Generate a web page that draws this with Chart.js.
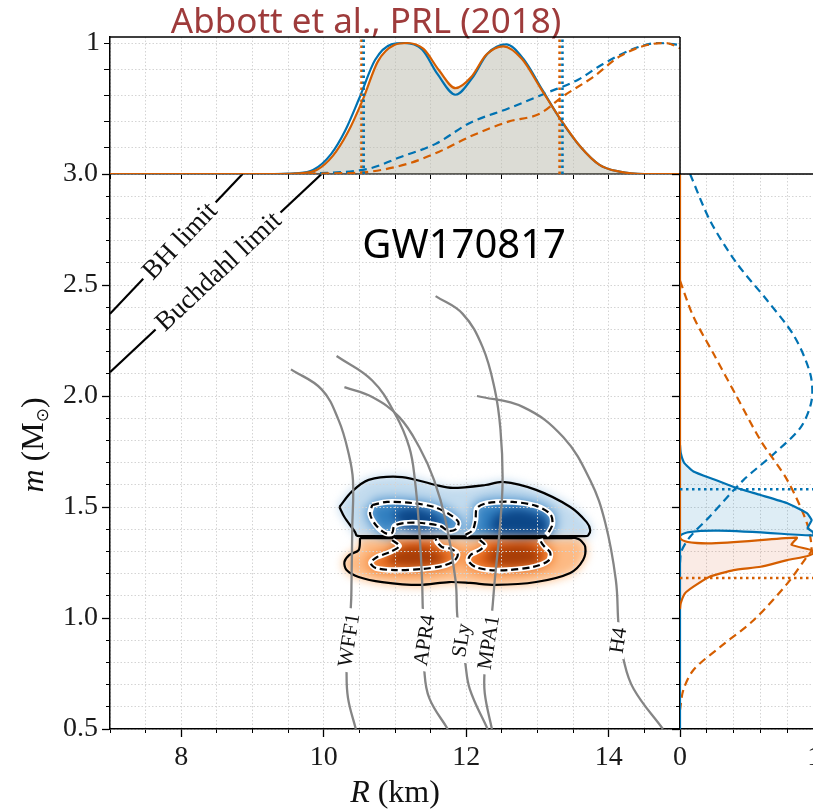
<!DOCTYPE html>
<html>
<head>
<meta charset="utf-8">
<title>GW170817 mass-radius</title>
<script src="https://cdn.jsdelivr.net/npm/chart.js@4.4.1/dist/chart.umd.min.js"></script>
<style>
html, body { margin: 0; padding: 0; background: #fff; overflow: hidden; }
#stage { position: relative; width: 813px; height: 812px; overflow: hidden; }
#stage canvas { position: absolute; left: 0; top: 0; }
#density { filter: blur(4px); }
</style>
</head>
<body>
<div id="stage">
  <canvas id="density" width="813" height="812"></canvas>
  <canvas id="main" width="813" height="812"></canvas>
  <canvas id="top" width="813" height="812"></canvas>
  <canvas id="side" width="840" height="812"></canvas>
</div>
<script>
// tick values
const rTicks = [8, 10, 12, 14];
const mTicks = [0.5, 1.0, 1.5, 2.0, 2.5, 3.0];
const pdfTicks = [0, 1];
const topMax = 1.046;

// EOS mass-radius curves (R in km, m in solar masses)
const eosNames = ['WFF1', 'APR4', 'SLy', 'MPA1', 'H4'];
const wff1R = [9.54, 9.97, 10.21, 10.35, 10.41, 10.40, 10.39, 10.38, 10.33, 10.32, 10.34, 10.45];
const wff1M = [2.12, 2.03, 1.89, 1.74, 1.62, 1.40, 1.17, 1.05, 0.90, 0.77, 0.64, 0.50];
const apr4R = [10.18, 10.68, 11.00, 11.20, 11.28, 11.34, 11.38, 11.39, 11.41, 11.41, 11.48, 11.74];
const apr4M = [2.18, 2.07, 1.92, 1.77, 1.62, 1.40, 1.17, 1.04, 0.90, 0.77, 0.64, 0.50];
const slyR = [10.29, 10.68, 11.06, 11.34, 11.55, 11.71, 11.85, 11.88, 11.98, 12.05, 12.30];
const slyM = [2.04, 1.995, 1.905, 1.77, 1.62, 1.44, 1.17, 0.99, 0.81, 0.68, 0.50];
const mpa1R = [11.57, 11.95, 12.23, 12.40, 12.48, 12.51, 12.47, 12.40, 12.36, 12.31, 12.26, 12.26, 12.36];
const mpa1M = [2.45, 2.37, 2.22, 2.03, 1.85, 1.62, 1.40, 1.17, 1.02, 0.89, 0.77, 0.66, 0.50];
const h4R = [12.15, 12.80, 13.36, 13.74, 13.95, 14.10, 14.14, 14.21, 14.35, 14.76];
const h4M = [2.00, 1.95, 1.815, 1.62, 1.43, 1.17, 0.96, 0.81, 0.68, 0.50];
const eosLabelR = [10.35, 11.41, 11.93, 12.31, 14.13];
const eosLabelM = [0.90, 0.90, 0.90, 0.89, 0.90];

// compactness limits
const bhR = [7.0, 8.86];
const bhM = [2.37, 3.0];
const buchR = [7.0, 9.97];
const buchM = [2.107, 3.0];
const limitNames = ['BH limit', 'Buchdahl limit'];
const limitLabelM = [2.70, 2.563];

// 90% (solid) and 50% (dashed) credible contours, heavier star m1 and lighter m2
const blueOutR = [10.22, 10.39, 10.63, 11.10, 11.57, 11.81, 12.27, 12.51, 12.98, 13.46, 13.69, 13.74, 13.71, 13.66, 10.50, 10.46, 10.44, 10.29, 10.22];
const blueOutM = [1.500, 1.568, 1.622, 1.635, 1.599, 1.586, 1.599, 1.613, 1.577, 1.500, 1.432, 1.396, 1.372, 1.369, 1.369, 1.372, 1.387, 1.455, 1.500];
const orOutR = [10.51, 10.49, 10.36, 10.29, 10.32, 10.49, 10.82, 11.34, 11.76, 12.05, 12.41, 12.98, 13.46, 13.64, 13.67, 13.60, 13.54, 13.48, 10.56, 10.51];
const orOutM = [1.360, 1.306, 1.284, 1.252, 1.216, 1.185, 1.162, 1.149, 1.162, 1.158, 1.149, 1.162, 1.203, 1.261, 1.320, 1.351, 1.360, 1.360, 1.360, 1.360];
const blueInLR = [10.68, 10.89, 11.24, 11.55, 11.76, 11.89, 11.86, 11.75, 11.64, 11.38, 11.13, 10.99, 10.96, 10.86, 10.73, 10.65, 10.68];
const blueInLM = [1.509, 1.523, 1.518, 1.500, 1.468, 1.432, 1.401, 1.392, 1.414, 1.428, 1.428, 1.414, 1.383, 1.383, 1.419, 1.468, 1.509];
const blueInRR = [11.99, 12.09, 12.13, 12.15, 12.30, 12.65, 12.98, 13.18, 13.21, 13.15, 13.12];
const blueInRM = [1.374, 1.396, 1.441, 1.495, 1.518, 1.523, 1.505, 1.468, 1.423, 1.383, 1.374];
const orInLR = [10.96, 11.06, 10.93, 10.75, 10.66, 10.73, 11.00, 11.38, 11.66, 11.83, 11.88, 11.79, 11.66, 11.59, 11.57];
const orInLM = [1.351, 1.324, 1.297, 1.275, 1.248, 1.225, 1.216, 1.221, 1.234, 1.257, 1.288, 1.311, 1.320, 1.342, 1.356];
const orInRR = [12.19, 12.26, 12.19, 12.06, 12.03, 12.13, 12.33, 12.58, 12.94, 13.15, 13.18, 13.09, 13.05, 13.04];
const orInRM = [1.351, 1.329, 1.306, 1.284, 1.257, 1.230, 1.216, 1.216, 1.230, 1.257, 1.293, 1.324, 1.342, 1.356];
// density maxima
const blueCoreLR = [10.99, 11.23, 11.51, 11.66, 11.38, 11.10, 10.99];
const blueCoreLM = [1.473, 1.495, 1.468, 1.423, 1.396, 1.414, 1.473];
const blueCoreRR = [12.40, 12.72, 13.08, 13.13, 12.65, 12.37, 12.40];
const blueCoreRM = [1.459, 1.486, 1.450, 1.387, 1.378, 1.396, 1.459];
const orCoreLR = [10.96, 11.24, 11.59, 11.66, 11.24, 10.93, 10.96];
const orCoreLM = [1.297, 1.315, 1.297, 1.252, 1.234, 1.252, 1.297];
const orCoreRR = [12.37, 12.72, 13.01, 13.01, 12.58, 12.30, 12.37];
const orCoreRM = [1.306, 1.324, 1.297, 1.252, 1.234, 1.261, 1.306];

// radius posteriors (solid) and priors (dashed), peak-normalised
const topBlueR = [7.0, 9.3, 9.6, 9.85, 10.1, 10.3, 10.5, 10.72, 10.95, 11.13, 11.38, 11.6, 11.85, 12.08, 12.3, 12.56, 12.8, 13.07, 13.33, 13.6, 13.87, 14.15, 14.5, 15.0];
const topBlueV = [0, 0, 0.005, 0.03, 0.15, 0.33, 0.58, 0.87, 0.99, 1.0, 0.95, 0.76, 0.605, 0.73, 0.92, 0.99, 0.88, 0.64, 0.41, 0.21, 0.07, 0.018, 0, 0];
const topOrR = [7.0, 9.35, 9.65, 9.9, 10.13, 10.34, 10.55, 10.76, 10.99, 11.17, 11.4, 11.62, 11.85, 12.07, 12.28, 12.52, 12.78, 13.05, 13.32, 13.6, 13.87, 14.15, 14.5, 15.0];
const topOrV = [0, 0, 0.005, 0.03, 0.14, 0.32, 0.57, 0.86, 0.985, 1.0, 0.955, 0.79, 0.655, 0.74, 0.91, 0.975, 0.88, 0.65, 0.42, 0.21, 0.07, 0.018, 0, 0];
const topBlueDashR = [9.4, 9.88, 10.65, 11.08, 11.57, 12.05, 12.59, 13.13, 13.57, 13.89, 14.32, 14.70, 15.0];
const topBlueDashV = [0, 0.005, 0.043, 0.13, 0.23, 0.39, 0.50, 0.62, 0.72, 0.83, 0.95, 1.0, 0.985];
const topOrDashR = [9.6, 10.10, 10.65, 11.19, 11.62, 12.05, 12.59, 13.03, 13.35, 13.78, 14.16, 14.54, 14.81, 15.0];
const topOrDashV = [0, 0.005, 0.018, 0.08, 0.17, 0.285, 0.40, 0.46, 0.59, 0.74, 0.90, 0.985, 1.0, 0.96];
const blueRInterval = [10.56, 13.35];
const orRInterval = [10.53, 13.31];

// mass posteriors (solid) and priors (dashed)
const sideBlueV = [0, 0.005, 0.03, 0.10, 0.25, 0.40, 0.60, 0.80, 0.945, 0.98, 0.95, 0.985, 1.0, 0, 0];
const sideBlueM = [1.78, 1.745, 1.70, 1.66, 1.625, 1.59, 1.554, 1.517, 1.472, 1.441, 1.405, 1.39, 1.372, 1.370, 0.5];
const sideOrV = [0, 0, 0.87, 0.83, 0.98, 0.99, 0.945, 0.80, 0.60, 0.40, 0.22, 0.10, 0.037, 0.005, 0];
const sideOrM = [3.0, 1.362, 1.362, 1.33, 1.306, 1.29, 1.278, 1.261, 1.231, 1.216, 1.186, 1.141, 1.111, 1.066, 1.04];
const sideBlueDashV = [0.075, 0.224, 0.42, 0.65, 0.85, 0.97, 0.98, 0.90, 0.70, 0.47, 0.22, 0.075, 0.01, 0];
const sideBlueDashM = [3.0, 2.79, 2.60, 2.43, 2.27, 2.10, 1.98, 1.86, 1.74, 1.62, 1.456, 1.366, 1.30, 1.25];
const sideOrDashV = [0, 0.10, 0.25, 0.42, 0.60, 0.80, 0.945, 0.98, 0.945, 0.80, 0.55, 0.30, 0.10, 0.025, 0];
const sideOrDashM = [2.52, 2.357, 2.19, 2.0, 1.80, 1.62, 1.427, 1.306, 1.276, 1.156, 0.991, 0.87, 0.766, 0.676, 0.586];
const m1Upper = 1.58;
const m2Lower = 1.18;

const SERIF = '"Liberation Serif", "DejaVu Serif", serif';
const SANS = '"Noto Sans", "Open Sans", sans-serif';
const BLUE = '#0072b2', ORANGE = '#d55e00', GREY = '#858585', GRID = '#d4d4d4';
Chart.defaults.font.family = SERIF;

const pts = (xs, ys) => xs.map((v, i) => ({ x: v, y: ys[i] }));
function ds(xs, ys, opts) {
  return Object.assign({
    data: pts(xs, ys), xAxisID: 'x', yAxisID: 'y',
    borderColor: '#000', borderWidth: 2.2, pointRadius: 0, fill: false, tension: 0
  }, opts);
}

function majorAxis(pos, min, max, ticks, size, fmt, len) {
  return {
    type: 'linear', position: pos, weight: 1, min, max,
    afterBuildTicks: s => { s.ticks = ticks.map(v => ({ value: v })); },
    afterFit: s => { if (pos === 'left') s.width = size; else s.height = size; },
    grid: { drawOnChartArea: false, tickLength: len || 8, tickColor: '#000', tickWidth: 1.3 },
    border: { color: '#000', width: 1.5 },
    ticks: { display: !!fmt, font: { family: SERIF, size: 28 }, color: '#1a1a1a', padding: 4,
             autoSkip: false, maxRotation: 0, callback: fmt || (() => '') }
  };
}
function minorAxis(pos, min, max, step, len) {
  return {
    type: 'linear', position: pos, weight: 0, min, max,
    ticks: { display: false, stepSize: step },
    afterFit: s => { if (pos === 'left') s.width = 0; else s.height = 0; },
    grid: { color: GRID, lineWidth: 1, tickLength: len, tickColor: '#000', tickWidth: 1 },
    border: { display: false, dash: [1.5, 2] }
  };
}
const baseOpts = {
  responsive: false, animation: false, events: [],
  plugins: { legend: { display: false }, tooltip: { enabled: false } },
  elements: { point: { radius: 0 } }
};

function boxedText(ctx, text, px, py, angle, size) {
  ctx.save();
  ctx.translate(px, py);
  ctx.rotate(angle);
  ctx.font = `${size}px ${SERIF}`;
  const w = ctx.measureText(text).width;
  ctx.fillStyle = '#fff';
  ctx.fillRect(-w / 2 - 5, -size * 0.42, w + 10, size * 0.84);
  ctx.fillStyle = '#111';
  ctx.textAlign = 'center';
  ctx.textBaseline = 'middle';
  ctx.fillText(text, 0, size * 0.05);
  ctx.restore();
}
function runs(ctx, parts, cx, cy) {
  let total = 0;
  parts.forEach(p => { ctx.font = p[1]; p.w = ctx.measureText(p[0]).width; total += p.w; });
  let xx = cx - total / 2;
  parts.forEach(p => { ctx.font = p[1]; ctx.fillText(p[0], xx, cy + (p[2] || 0)); xx += p.w; });
}

const mainLabels = {
  id: 'mainLabels',
  afterDraw(chart) {
    const { ctx, scales: { x, y } } = chart;
    [[bhR, bhM], [buchR, buchM]].forEach(([rs, ms], i) => {
      const x0 = x.getPixelForValue(rs[0]), y0 = y.getPixelForValue(ms[0]);
      const x1 = x.getPixelForValue(rs[1]), y1 = y.getPixelForValue(ms[1]);
      const t = (limitLabelM[i] - ms[0]) / (ms[1] - ms[0]);
      boxedText(ctx, limitNames[i], x0 + t * (x1 - x0), y0 + t * (y1 - y0), Math.atan2(y1 - y0, x1 - x0), 27);
    });
    eosNames.forEach((n, i) => {
      boxedText(ctx, n, x.getPixelForValue(eosLabelR[i]), y.getPixelForValue(eosLabelM[i]), -81 * Math.PI / 180, 21);
    });

    ctx.save();
    ctx.fillStyle = '#000';
    ctx.textAlign = 'center';
    ctx.textBaseline = 'alphabetic';
    ctx.font = `40px ${SANS}`;
    ctx.fillText('GW170817', x.getPixelForValue(11.97), y.getPixelForValue(2.62));
    ctx.fillStyle = '#9e3b3b';
    ctx.font = `35px ${SANS}`;
    ctx.fillText('Abbott et al., PRL (2018)', 366, 33);

    ctx.fillStyle = '#111';
    ctx.textAlign = 'left';
    runs(ctx, [['R', `italic 32px ${SERIF}`], [' (km)', `32px ${SERIF}`]], (chart.chartArea.left + chart.chartArea.right) / 2, 802);
    ctx.translate(43, 445);
    ctx.rotate(-Math.PI / 2);
    runs(ctx, [['m', `italic 32px ${SERIF}`], [' (M', `32px ${SERIF}`], ['\u2299', '17px "DejaVu Sans"', 5], [')', `32px ${SERIF}`]], 0, 0);
    ctx.restore();
  }
};

const frame = sides => ({
  id: 'frame',
  afterDraw(chart) {
    const { ctx, chartArea: a } = chart;
    ctx.save();
    ctx.strokeStyle = '#000';
    ctx.lineWidth = 1.5;
    ctx.beginPath();
    if (sides.includes('top')) { ctx.moveTo(a.left, a.top); ctx.lineTo(a.right, a.top); }
    if (sides.includes('right')) { ctx.moveTo(a.right, a.top); ctx.lineTo(a.right, a.bottom); }
    ctx.stroke();
    ctx.restore();
  }
});

// ---- density shading (blurred layer under the main panel) ----
const shade = (r, m, fillCol, glow, gw) => ds(r, m, { fill: 'shape', backgroundColor: fillCol, borderColor: glow, borderWidth: gw, tension: 0.3 });
new Chart(document.getElementById('density'), {
  type: 'line',
  data: { datasets: [
    shade(blueCoreLR, blueCoreLM, '#0c4788', 'rgba(20,80,150,0.45)', 8),
    shade(blueCoreRR, blueCoreRM, '#0c4788', 'rgba(20,80,150,0.45)', 8),
    shade(orCoreLR, orCoreLM, '#a73d07', 'rgba(185,70,10,0.45)', 8),
    shade(orCoreRR, orCoreRM, '#a73d07', 'rgba(185,70,10,0.45)', 8),
    shade(blueInLR, blueInLM, '#2f7ebf', 'rgba(80,148,205,0.5)', 14),
    shade(blueInRR, blueInRM, '#2f7ebf', 'rgba(80,148,205,0.5)', 14),
    shade(orInLR, orInLM, '#e25e14', 'rgba(245,135,55,0.5)', 14),
    shade(orInRR, orInRM, '#e25e14', 'rgba(245,135,55,0.5)', 14),
    shade(blueOutR, blueOutM, '#c2dbee', 'rgba(200,222,240,0.6)', 6),
    shade(orOutR, orOutM, '#fdba84', 'rgba(253,205,160,0.6)', 6)
  ] },
  options: Object.assign({}, baseOpts, {
    layout: { padding: { left: 110, top: 174, right: 133, bottom: 83 } },
    scales: {
      x: { type: 'linear', display: false, min: 7, max: 15 },
      y: { type: 'linear', display: false, min: 0.5, max: 3.0 }
    }
  })
});

// ---- main m-R panel ----
const eosR = [wff1R, apr4R, slyR, mpa1R, h4R];
const eosM = [wff1M, apr4M, slyM, mpa1M, h4M];
const inner = [[blueInLR, blueInLM], [blueInRR, blueInRM], [orInLR, orInLM], [orInRR, orInRM]];
const mainSets = [];
eosR.forEach((r, i) => mainSets.push(ds(r, eosM[i], { borderColor: GREY, borderWidth: 2.3, tension: 0.4 })));
inner.forEach(([r, m]) => mainSets.push(ds(r, m, { borderWidth: 2.2, borderDash: [7, 4], tension: 0.3 })));
inner.forEach(([r, m]) => mainSets.push(ds(r, m, { borderColor: '#fff', borderWidth: 5.5, tension: 0.3 })));
mainSets.push(ds(blueOutR, blueOutM, { tension: 0.3 }));
mainSets.push(ds(orOutR, orOutM, { tension: 0.3 }));
mainSets.push(ds(bhR, bhM));
mainSets.push(ds(buchR, buchM));

new Chart(document.getElementById('main'), {
  type: 'line',
  data: { datasets: mainSets },
  options: Object.assign({}, baseOpts, {
    layout: { padding: { left: 0, top: 174, right: 133, bottom: 0 } },
    scales: {
      x: majorAxis('bottom', 7, 15, rTicks, 83, v => String(v)),
      xMinor: minorAxis('bottom', 7, 15, 0.5, 4),
      y: majorAxis('left', 0.5, 3.0, mTicks, 110, v => v.toFixed(1)),
      yMinor: minorAxis('left', 0.5, 3.0, 0.1, 4)
    }
  }),
  plugins: [mainLabels]
});

// ---- radius marginal (top) ----
const dotted = { borderWidth: 2.6, borderDash: [2.5, 3.5] };
new Chart(document.getElementById('top'), {
  type: 'line',
  data: { datasets: [
    ds([blueRInterval[0], blueRInterval[0]], [0, topMax], Object.assign({ borderColor: BLUE }, dotted)),
    ds([blueRInterval[1], blueRInterval[1]], [0, topMax], Object.assign({ borderColor: BLUE }, dotted)),
    ds([orRInterval[0], orRInterval[0]], [0, topMax], Object.assign({ borderColor: ORANGE }, dotted)),
    ds([orRInterval[1], orRInterval[1]], [0, topMax], Object.assign({ borderColor: ORANGE }, dotted)),
    ds(topOrR, topOrV, { borderColor: ORANGE, cubicInterpolationMode: 'monotone', fill: 'origin', backgroundColor: 'rgba(185,185,172,0.5)' }),
    ds(topBlueR, topBlueV, { borderColor: BLUE, cubicInterpolationMode: 'monotone' }),
    ds(topOrDashR, topOrDashV, { borderColor: ORANGE, borderDash: [8, 5], cubicInterpolationMode: 'monotone' }),
    ds(topBlueDashR, topBlueDashV, { borderColor: BLUE, borderDash: [8, 5], cubicInterpolationMode: 'monotone' })
  ] },
  options: Object.assign({}, baseOpts, {
    layout: { padding: { left: 0, top: 37, right: 133, bottom: 638 } },
    plugins: { legend: { display: false }, tooltip: { enabled: false }, filler: { drawTime: 'beforeDatasetsDraw' } },
    scales: {
      x: {
        type: 'linear', position: 'bottom', min: 7, max: 15,
        ticks: { display: false, stepSize: 0.5 },
        afterFit: s => { s.height = 0; },
        grid: { color: GRID, tickLength: 5, tickColor: '#000', tickWidth: 1 },
        border: { color: '#000', width: 1.5, dash: [1.5, 2] }
      },
      y: {
        type: 'linear', position: 'left', min: 0, max: topMax,
        ticks: { stepSize: 0.2, includeBounds: false, font: { family: SERIF, size: 28 }, color: '#1a1a1a', padding: 4,
                 autoSkip: false, callback: v => (v === 1 ? '1' : '') },
        afterFit: s => { s.width = 110; },
        grid: { color: GRID, tickLength: 6, tickColor: '#000', tickWidth: 1 },
        border: { color: '#000', width: 1.5, dash: [1.5, 2] }
      }
    }
  }),
  plugins: [frame(['top', 'right'])]
});

// ---- mass marginal (right) ----
new Chart(document.getElementById('side'), {
  type: 'line',
  data: { datasets: [
    ds([0, 1.05], [m1Upper, m1Upper], Object.assign({ borderColor: BLUE }, dotted)),
    ds([0, 1.05], [m2Lower, m2Lower], Object.assign({ borderColor: ORANGE }, dotted)),
    ds(sideOrV, sideOrM, { borderColor: ORANGE, fill: 'shape', backgroundColor: 'rgba(213,94,40,0.12)', tension: 0.15 }),
    ds(sideBlueV, sideBlueM, { borderColor: BLUE, fill: 'shape', backgroundColor: 'rgba(0,114,178,0.13)', tension: 0.15 }),
    ds(sideOrDashV, sideOrDashM, { borderColor: ORANGE, borderDash: [8, 5], tension: 0.3 }),
    ds(sideBlueDashV, sideBlueDashM, { borderColor: BLUE, borderDash: [8, 5], tension: 0.3 })
  ] },
  options: Object.assign({}, baseOpts, {
    layout: { padding: { left: 680, top: 174, right: 19, bottom: 0 } },
    plugins: { legend: { display: false }, tooltip: { enabled: false }, filler: { drawTime: 'beforeDatasetsDraw' } },
    scales: {
      x: majorAxis('bottom', 0, 1.05, pdfTicks, 83, v => String(v)),
      xMinor: minorAxis('bottom', 0, 1.05, 0.2, 4),
      y: majorAxis('left', 0.5, 3.0, mTicks, 0, null),
      yMinor: minorAxis('left', 0.5, 3.0, 0.1, 4)
    }
  }),
  plugins: [frame(['top'])]
});
</script>
</body>
</html>
